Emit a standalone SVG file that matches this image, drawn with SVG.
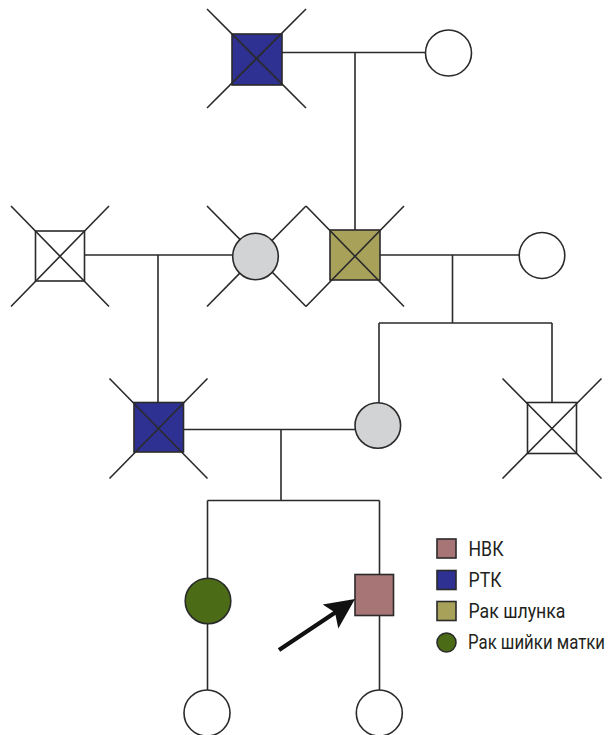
<svg xmlns="http://www.w3.org/2000/svg" width="612" height="735" viewBox="0 0 612 735">
  <style>
    .ln { stroke: #2b2a2b; stroke-width: 1.6; fill: none; }
    .sym { stroke: #2b2a2b; stroke-width: 1.6; }
    .white { fill: #ffffff; }
    .grey { fill: #d1d3d4; }
    .blue { fill: #2e3192; }
    .olive { fill: #a8a15a; }
    .green { fill: #4b6b16; }
    .pink { fill: #a87576; }
    .lbl { font-family: "Roboto", "Liberation Sans", sans-serif; font-size: 20px; fill: #231f20; }
    .lbl-sm { font-size: 18px; }
  </style>
  <rect width="612" height="735" fill="#ffffff"/>

  <!-- connectors -->
  <g id="connectors" class="ln">
    <!-- generation I -->
    <line x1="282" y1="52.5" x2="426" y2="52.5"/>
    <line x1="355" y1="52.5" x2="355" y2="230"/>
    <!-- generation II couples -->
    <line x1="85" y1="255" x2="233" y2="255"/>
    <line x1="158" y1="255" x2="158" y2="402"/>
    <line x1="380" y1="255" x2="519" y2="255"/>
    <line x1="452.5" y1="255" x2="452.5" y2="323"/>
    <line x1="379" y1="323" x2="552" y2="323"/>
    <line x1="379" y1="323" x2="379" y2="403"/>
    <line x1="552" y1="323" x2="552" y2="402"/>
    <!-- generation III couple -->
    <line x1="183" y1="429.5" x2="355" y2="429.5"/>
    <line x1="281" y1="429.5" x2="281" y2="500.5"/>
    <line x1="207.5" y1="500.5" x2="379.5" y2="500.5"/>
    <line x1="207.5" y1="500.5" x2="207.5" y2="578"/>
    <line x1="379.5" y1="500.5" x2="379.5" y2="574"/>
    <!-- generation IV to V -->
    <line x1="207.5" y1="624" x2="207.5" y2="690"/>
    <line x1="379.5" y1="616" x2="379.5" y2="690"/>
  </g>

  <!-- I-1: deceased male, RTK -->
  <g id="I-1">
    <rect class="sym blue" x="232" y="34" width="50" height="51"/>
    <line class="ln" x1="207" y1="9" x2="306" y2="108"/>
    <line class="ln" x1="306" y1="9" x2="207" y2="108"/>
  </g>

  <!-- I-2: female -->
  <g id="I-2">
    <circle class="sym white" cx="448.5" cy="53" r="23"/>
  </g>

  <!-- II-1: deceased male -->
  <g id="II-1">
    <rect class="sym white" x="35.5" y="231" width="49" height="50"/>
    <line class="ln" x1="11" y1="206" x2="109" y2="306.5"/>
    <line class="ln" x1="109" y1="206" x2="11" y2="306.5"/>
  </g>

  <!-- II-2: deceased female, unknown status -->
  <g id="II-2">
    <line class="ln" x1="207" y1="206" x2="306" y2="306.5"/>
    <line class="ln" x1="306" y1="206" x2="207" y2="306.5"/>
    <ellipse class="sym grey" cx="255.5" cy="256.5" rx="22.8" ry="23.2"/>
  </g>

  <!-- II-3: deceased male, stomach cancer -->
  <g id="II-3">
    <rect class="sym olive" x="330" y="230" width="50" height="50"/>
    <line class="ln" x1="306" y1="206" x2="404" y2="306.5"/>
    <line class="ln" x1="404" y1="206" x2="306" y2="306.5"/>
  </g>

  <!-- II-4: female -->
  <g id="II-4">
    <ellipse class="sym white" cx="542" cy="255.5" rx="22.8" ry="23"/>
  </g>

  <!-- III-1: deceased male, RTK -->
  <g id="III-1">
    <rect class="sym blue" x="134" y="402.5" width="49.5" height="49.5"/>
    <line class="ln" x1="109.5" y1="378.5" x2="207.5" y2="478.5"/>
    <line class="ln" x1="207.5" y1="378.5" x2="109.5" y2="478.5"/>
  </g>

  <!-- III-2: female, unknown status -->
  <g id="III-2">
    <circle class="sym grey" cx="377.8" cy="425.5" r="22.8"/>
  </g>

  <!-- III-3: deceased male -->
  <g id="III-3">
    <rect class="sym white" x="527.5" y="402.5" width="49" height="51"/>
    <line class="ln" x1="502.5" y1="378.5" x2="601.5" y2="478.5"/>
    <line class="ln" x1="601.5" y1="378.5" x2="502.5" y2="478.5"/>
  </g>

  <!-- IV-1: female, cervical cancer -->
  <g id="IV-1">
    <circle class="sym green" cx="208" cy="601" r="22.8"/>
  </g>

  <!-- IV-2: proband, male, NVK -->
  <g id="IV-2">
    <rect class="sym pink" x="355" y="574.5" width="38.5" height="41"/>
  </g>

  <!-- V-1, V-2: females -->
  <g id="V-1">
    <circle class="sym white" cx="207" cy="713" r="23"/>
  </g>
  <g id="V-2">
    <circle class="sym white" cx="379.3" cy="713" r="23"/>
  </g>

  <!-- proband arrow -->
  <g id="proband-arrow">
    <line x1="279" y1="650" x2="336" y2="612" stroke="#111111" stroke-width="4.2"/>
    <polygon points="355,599 322.7,604.5 335,612.5 338.3,628.5" fill="#111111"/>
  </g>

  <!-- legend -->
  <g id="legend">
    <rect class="sym pink" x="437" y="539" width="19" height="19" stroke-width="1"/>
    <rect class="sym blue" x="437" y="570.5" width="19" height="19" stroke-width="1"/>
    <rect class="sym olive" x="437" y="601.5" width="19" height="19" stroke-width="1"/>
    <circle class="sym green" cx="446.5" cy="642.5" r="9.5" stroke-width="1"/>
    <text class="lbl" x="468.5" y="556" textLength="35" lengthAdjust="spacingAndGlyphs">НВК</text>
    <text class="lbl" x="468.5" y="587" textLength="33" lengthAdjust="spacingAndGlyphs">РТК</text>
    <text class="lbl" x="468.5" y="618" textLength="97" lengthAdjust="spacingAndGlyphs">Рак шлунка</text>
    <text class="lbl lbl-sm" transform="translate(468 649) scale(1 1.11)" x="0" y="0" textLength="137" lengthAdjust="spacingAndGlyphs">Рак шийки матки</text>
  </g>
</svg>
